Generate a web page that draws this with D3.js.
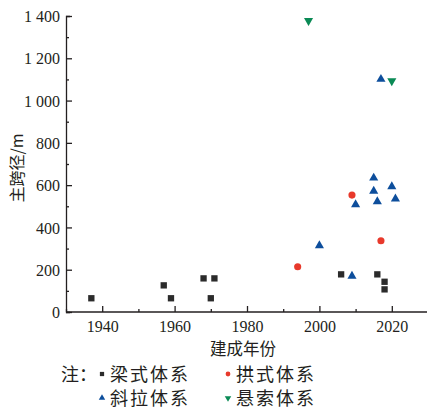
<!DOCTYPE html>
<meta charset="utf-8">
<script src="https://d3js.org/d3.v7.min.js"></script>
<style>
  body { margin: 0; background: #fff; }
  text { fill: #231f20; }
</style>
<div id="chart"></div>
<script>
// data: [year, main span / m]
var beamData = [[1937, 65], [1957, 126], [1959, 65], [1968, 159], [1971, 159], [1970, 65],
                [2006, 178], [2016, 178], [2018, 143], [2018, 107]];
var archData = [[1994, 214], [2009, 553], [2017, 337]];
var cableData = [[2000, 314], [2009, 170], [2010, 508], [2015, 634], [2015, 572], [2016, 522],
                 [2020, 593], [2021, 535], [2017, 1101]];
var suspData = [[1997, 1378], [2020, 1093]];
var xTicks = [1940, 1960, 1980, 2000, 2020];
var yTicks = [0, 200, 400, 600, 800, 1000, 1200, 1400];

var W = 427, H = 411;
var svg = d3.select("#chart").append("svg")
    .attr("width", W).attr("height", H);

var x = d3.scaleLinear().domain([1930, 2030]).range([66, 428]);
var y = d3.scaleLinear().domain([0, 1400]).range([312, 16]);

var numFmt = function (d) {
    return d >= 1000 ? Math.floor(d / 1000) + " " + d3.format("03d")(d % 1000) : d;
};

// x axis (ticks pointing inward)
var gx = svg.append("g").attr("transform", "translate(0," + y(0) + ")");
gx.call(d3.axisBottom(x).tickValues(d3.range(1930, 2031, 10)).tickSize(-5).tickFormat(""));
gx.call(function (g) {
    g.selectAll(".tick line").attr("y2", function (d) { return d % 20 === 0 ? -6 : -3; });
});
gx.selectAll(".tick").filter(function (d) { return xTicks.indexOf(d) >= 0; })
    .append("text")
    .attr("y", 20).attr("text-anchor", "middle")
    .attr("font-family", "Liberation Serif").attr("font-size", 16)
    .text(function (d) { return d; });

// y axis
var gy = svg.append("g").attr("transform", "translate(" + x(1930) + ",0)");
gy.call(d3.axisLeft(y).tickValues(d3.range(0, 1401, 100)).tickSize(-4).tickFormat(""));
gy.call(function (g) {
    g.selectAll(".tick line").attr("x2", function (d) { return d % 200 === 0 ? 6 : 3; });
});
gy.selectAll(".tick").filter(function (d) { return yTicks.indexOf(d) >= 0; })
    .append("text")
    .attr("x", -6).attr("dy", "0.35em").attr("text-anchor", "end")
    .attr("font-family", "Liberation Serif").attr("font-size", 16)
    .text(numFmt);

svg.selectAll(".domain, .tick line").attr("stroke", "#231f20").attr("stroke-width", 1.3);
gx.select(".domain").attr("d", "M" + x(1930) + ",0H" + W);

// axis titles
svg.append("text")
    .attr("transform", "translate(23,168) rotate(-90)")
    .attr("text-anchor", "middle")
    .attr("font-family", "Noto Sans CJK SC").attr("font-size", 16)
    .text("主跨径/m");
svg.append("text")
    .attr("x", 243).attr("y", 355).attr("text-anchor", "middle")
    .attr("font-family", "Noto Sans CJK SC").attr("font-size", 16.5)
    .text("建成年份");

// marks
var sq = d3.symbol().type(d3.symbolSquare).size(40);
var ci = d3.symbol().type(d3.symbolCircle).size(40);
var tri = d3.symbol().type(d3.symbolTriangle).size(36);

var series = [
    { data: beamData, sym: sq, color: "#2b2b2b", rot: 0 },
    { data: archData, sym: ci, color: "#e8392b", rot: 0 },
    { data: cableData, sym: tri, color: "#0d4e9c", rot: 0 },
    { data: suspData, sym: tri, color: "#0a8a55", rot: 180 }
];
series.forEach(function (s) {
    svg.append("g").selectAll("path")
        .data(s.data).enter().append("path")
        .attr("d", s.sym)
        .attr("fill", s.color)
        .attr("transform", function (d) {
            return "translate(" + x(d[0]) + "," + y(d[1]) + ") rotate(" + s.rot + ")";
        });
});

// legend
var lg = svg.append("g").attr("font-family", "Noto Sans CJK SC").attr("font-size", 18);
lg.append("text").attr("x", 61).attr("y", 381).text("注：");
var legendItems = [
    { label: "梁式体系", sym: sq, color: "#2b2b2b", rot: 0, lx: 102, ly: 374 },
    { label: "拱式体系", sym: ci, color: "#e8392b", rot: 0, lx: 228, ly: 374 },
    { label: "斜拉体系", sym: tri, color: "#0d4e9c", rot: 0, lx: 102, ly: 398 },
    { label: "悬索体系", sym: tri, color: "#0a8a55", rot: 180, lx: 228, ly: 398 }
];
legendItems.forEach(function (it) {
    lg.append("path")
        .attr("d", it.sym.size(18)())
        .attr("fill", it.color)
        .attr("transform", "translate(" + it.lx + "," + it.ly + ") rotate(" + it.rot + ")");
    lg.append("text").attr("x", it.lx + 8).attr("y", it.ly + 7)
        .attr("letter-spacing", 2).text(it.label);
});
</script>
